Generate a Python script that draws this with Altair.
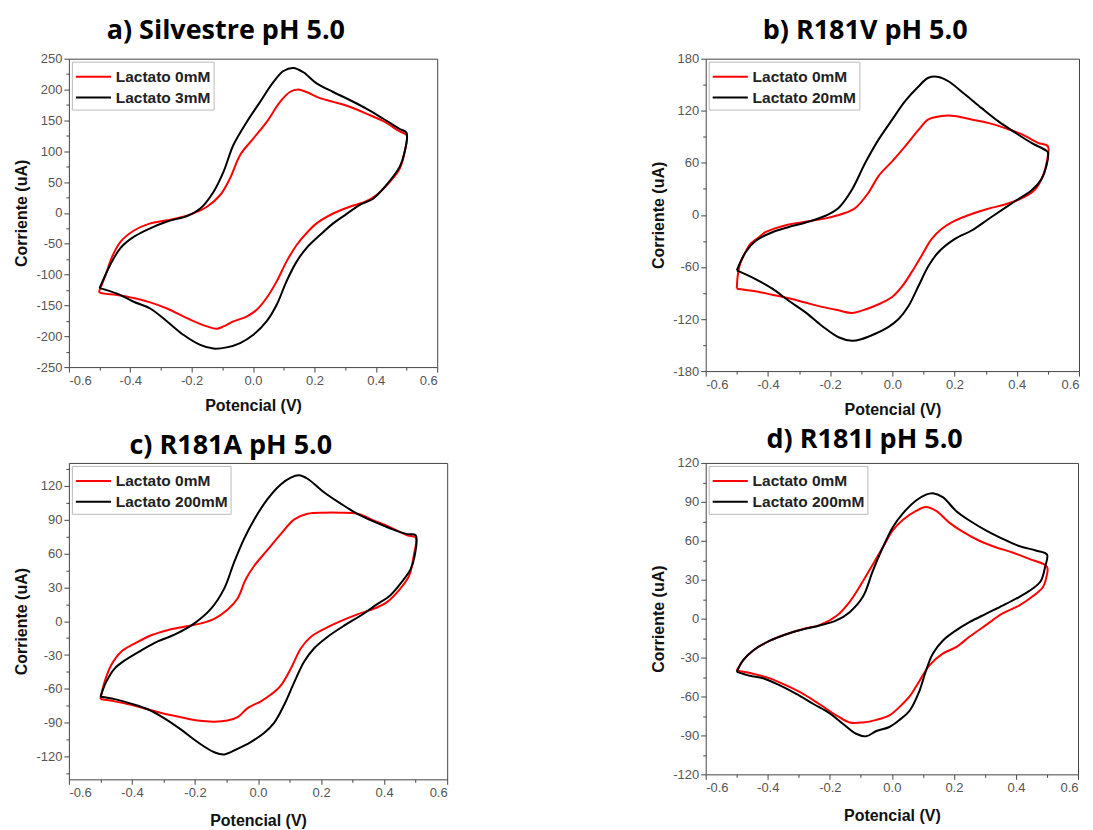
import altair as alt
import pandas as pd

# ---------------- data ----------------
# a) Silvestre pH 5.0
a_labels = ["Lactato 0mM", "Lactato 3mM"]
a_x0 = [-0.5, -0.48, -0.46, -0.432, -0.389, -0.335, -0.28, -0.2, -0.15, -0.107, -0.075, -0.042, 0.0, 0.044, 0.088, 0.12, 0.147, 0.174, 0.218, 0.261, 0.315, 0.369, 0.423, 0.478, 0.5,
        0.494, 0.478, 0.445, 0.402, 0.369, 0.315, 0.261, 0.207, 0.174, 0.142, 0.109, 0.077, 0.044, 0.012, -0.021, -0.064, -0.096, -0.118, -0.15, -0.205, -0.28, -0.335, -0.389, -0.443, -0.5, -0.5]
a_y0 = [-125, -100, -72, -47, -29, -17, -12, -2, 10, 29, 56, 94, 120, 147, 180, 196, 200, 196, 186, 180, 172, 161, 149, 132, 126,
        99, 72, 50, 29, 19, 10, -1, -17, -33, -52, -79, -111, -138, -157, -168, -176, -184, -188, -184, -173, -155, -145, -138, -133, -129, -125]
a_x1 = [-0.5, -0.465, -0.432, -0.389, -0.335, -0.28, -0.215, -0.172, -0.129, -0.096, -0.064, -0.021, 0.023, 0.066, 0.099, 0.131, 0.164, 0.207, 0.261, 0.315, 0.369, 0.423, 0.478, 0.5,
        0.494, 0.478, 0.434, 0.391, 0.348, 0.304, 0.261, 0.218, 0.174, 0.142, 0.109, 0.077, 0.044, 0.0, -0.042, -0.086, -0.129, -0.172, -0.226, -0.28, -0.335, -0.389, -0.443, -0.5]
a_y1 = [-122, -84, -57, -39, -25, -14, -5, 7, 34, 67, 110, 147, 180, 212, 230, 235, 228, 210, 196, 183, 169, 153, 136, 130,
        99, 75, 45, 23, 13, -2, -17, -36, -57, -79, -111, -149, -176, -198, -211, -218, -220, -214, -198, -176, -155, -144, -131, -122]

# b) R181V pH 5.0
b_labels = ["Lactato 0mM", "Lactato 20mM"]
b_x0 = [-0.5, -0.497, -0.49, -0.475, -0.455, -0.43, -0.408, -0.333, -0.28, -0.215, -0.162, -0.119, -0.076, -0.044, 0.0, 0.041, 0.084, 0.116, 0.159, 0.2, 0.255, 0.308, 0.362, 0.415, 0.468, 0.5,
        0.498, 0.484, 0.458, 0.415, 0.362, 0.308, 0.255, 0.2, 0.159, 0.126, 0.094, 0.062, 0.03, -0.002, -0.044, -0.087, -0.13, -0.173, -0.226, -0.28, -0.333, -0.386, -0.44, -0.5]
b_y0 = [-85, -70, -57, -45, -33, -26, -20, -11, -8, -4, 1, 8, 26, 45, 62, 79, 98, 110, 114, 114, 110, 106, 100, 93, 83, 79,
        64, 45, 29, 19, 12, 7, 1, -7, -16, -28, -47, -66, -83, -95, -103, -109, -113, -110, -106, -101, -96, -92, -88, -85]
b_x1 = [-0.5, -0.472, -0.44, -0.386, -0.333, -0.28, -0.215, -0.173, -0.13, -0.087, -0.044, 0.0, 0.041, 0.084, 0.116, 0.148, 0.18, 0.233, 0.287, 0.34, 0.394, 0.447, 0.495, 0.5,
        0.495, 0.479, 0.447, 0.404, 0.362, 0.308, 0.255, 0.2, 0.148, 0.116, 0.084, 0.052, 0.02, -0.012, -0.055, -0.098, -0.13, -0.173, -0.226, -0.28, -0.333, -0.386, -0.44, -0.5]
b_y1 = [-64, -43, -30, -20, -14, -9, -1, 8, 29, 60, 87, 110, 131, 148, 158, 159, 154, 139, 123, 108, 95, 83, 74, 72,
        56, 41, 28, 18, 8, -5, -18, -28, -43, -59, -82, -105, -120, -129, -137, -143, -145, -141, -128, -112, -99, -85, -74, -64]

# c) R181A pH 5.0
c_labels = ["Lactato 0mM", "Lactato 200mM"]
c_x0 = [-0.5, -0.487, -0.466, -0.434, -0.392, -0.339, -0.287, -0.234, -0.181, -0.139, -0.097, -0.065, -0.039, -0.012, 0.03, 0.072, 0.115, 0.157, 0.209, 0.262, 0.315, 0.368, 0.42, 0.473, 0.5,
        0.494, 0.479, 0.452, 0.41, 0.368, 0.315, 0.262, 0.209, 0.167, 0.136, 0.104, 0.072, 0.041, 0.009, -0.033, -0.065, -0.097, -0.139, -0.192, -0.244, -0.297, -0.35, -0.403, -0.455, -0.5]
c_y0 = [-69, -54, -39, -27, -20, -12.5, -8, -5, -2, 2, 10, 20, 37, 49, 63, 77, 90, 95, 96, 96, 95, 89, 83, 76, 74,
        58, 40, 29, 17, 11, 6, 0, -7, -14, -24, -42, -57, -65, -71, -77, -85, -88, -89, -88, -85, -82, -78, -74, -71, -69]
c_x1 = [-0.5, -0.482, -0.455, -0.424, -0.371, -0.318, -0.265, -0.202, -0.149, -0.107, -0.076, -0.044, -0.012, 0.03, 0.072, 0.104, 0.13, 0.157, 0.209, 0.262, 0.315, 0.368, 0.42, 0.473, 0.5,
        0.497, 0.484, 0.457, 0.42, 0.378, 0.326, 0.273, 0.22, 0.178, 0.146, 0.115, 0.083, 0.051, 0.019, -0.023, -0.065, -0.107, -0.139, -0.192, -0.244, -0.297, -0.35, -0.403, -0.455, -0.5]
c_y1 = [-67, -54, -42, -35, -26, -18, -12, -2, 11, 29, 52, 73, 90, 108, 121, 127, 129, 126, 114, 104, 95, 88, 82, 77, 76,
        58, 46, 35, 23, 15, 5, -4, -14, -24, -36, -54, -74, -90, -99, -107, -113, -118, -116, -107, -96, -86, -78, -73, -69, -67]

# d) R181I pH 5.0
d_labels = ["Lactato 0mM", "Lactato 200mM"]
d_x0 = [-0.5, -0.479, -0.447, -0.393, -0.34, -0.286, -0.233, -0.179, -0.136, -0.093, -0.061, -0.029, 0.003, 0.035, 0.078, 0.11, 0.143, 0.185, 0.228, 0.282, 0.335, 0.389, 0.443, 0.5,
        0.498, 0.486, 0.453, 0.41, 0.357, 0.303, 0.25, 0.207, 0.164, 0.121, 0.089, 0.057, 0.025, -0.008, -0.05, -0.093, -0.136, -0.179, -0.233, -0.286, -0.34, -0.393, -0.447, -0.5]
d_y0 = [-40, -32, -24.5, -17, -12, -8, -5, 2, 13, 29, 42, 55, 68, 76, 83, 86, 83, 74, 67, 60, 55, 51, 46, 40,
        32, 24, 17, 10, 4, -5, -14, -22, -27, -36, -48, -60, -68, -74.5, -78, -80, -80, -74.5, -66, -58, -51.5, -46, -42.5, -40]
d_x1 = [-0.5, -0.479, -0.447, -0.393, -0.34, -0.286, -0.233, -0.179, -0.136, -0.093, -0.061, -0.029, 0.003, 0.035, 0.078, 0.11, 0.132, 0.164, 0.207, 0.25, 0.303, 0.357, 0.41, 0.464, 0.5,
        0.494, 0.48, 0.453, 0.41, 0.357, 0.303, 0.25, 0.207, 0.164, 0.132, 0.11, 0.089, 0.057, 0.025, -0.008, -0.05, -0.083, -0.115, -0.158, -0.2, -0.254, -0.308, -0.361, -0.415, -0.458, -0.5]
d_y1 = [-41, -32, -24.5, -17, -12, -8.3, -5.3, -1.4, 5, 17, 37, 55, 70.5, 81, 91, 95.6, 96.7, 93.6, 83, 75.6, 68, 61.5, 56, 52.5, 49.4,
        40, 29, 23, 16.6, 10, 3.7, -2.7, -9, -17, -27, -40, -55.6, -71, -78, -83.5, -86.6, -90.7, -88.7, -81, -73, -65.6, -58, -51.5, -46, -44, -41]

titles = ["a) Silvestre pH 5.0", "b) R181V pH 5.0", "c) R181A pH 5.0", "d) R181I pH 5.0"]
x_major = [-0.6, -0.4, -0.2, 0.0, 0.2, 0.4, 0.6]
x_minor = [-0.5, -0.3, -0.1, 0.1, 0.3, 0.5]
colors = ["#ff0000", "#000000"]

AX = dict(grid=False, domain=False, tickColor="#444", tickSize=5, tickWidth=1,
          labelFont="Liberation Sans", labelFontSize=13, labelColor="#555", labelPadding=2,
          titleFont="Liberation Sans", titleFontSize=16, titleFontWeight="bold", titleColor="#111")


def panel(title, labels, xs0, ys0, xs1, ys1, ydom, ystep, w, h, toff, xtp):
    rows = []
    for lab, xs, ys in ((labels[0], xs0, ys0), (labels[1], xs1, ys1)):
        for i, (xv, yv) in enumerate(zip(xs, ys)):
            rows.append({"series": lab, "order": i, "x": xv, "y": yv})
    df = pd.DataFrame(rows)
    ymaj = [v for v in range(-10 * ystep, 10 * ystep + 1, ystep) if ydom[0] <= v <= ydom[1]]
    ymin = [v + ystep / 2 for v in ymaj if ydom[0] <= v + ystep / 2 <= ydom[1]]
    if ydom[0] <= ymaj[0] - ystep / 2:
        ymin = [ymaj[0] - ystep / 2] + ymin
    xs = alt.Scale(domain=[-0.6, 0.6], nice=False, zero=False)
    ys = alt.Scale(domain=ydom, nice=False, zero=False)
    base = alt.Chart(df)
    lines = base.mark_line(strokeWidth=2, interpolate="catmull-rom").encode(
        x=alt.X("x:Q", scale=xs, axis=alt.Axis(values=x_major, title="Potencial (V)", titlePadding=xtp,
                labelExpr="(datum.value < -0.001 ? '-' : '') + format(abs(datum.value), '.1f')", **AX)),
        y=alt.Y("y:Q", scale=ys, axis=alt.Axis(values=ymaj, title="Corriente (uA)", titlePadding=6,
                labelExpr="(datum.value < 0 ? '-' : '') + format(abs(datum.value), 'd')", **AX)),
        color=alt.Color("series:N", scale=alt.Scale(domain=labels, range=colors),
                        legend=alt.Legend(title=None, orient="top-left", offset=3,
                                          symbolType="M-1,0H2.2", symbolSize=484, symbolStrokeWidth=2,
                                          labelFont="Liberation Sans", labelFontSize=15.5, labelFontWeight="bold",
                                          labelColor="#222", labelOffset=17, labelLimit=300,
                                          strokeColor="#bbb", fillColor="white", padding=3, rowPadding=-2)),
        order="order:Q",
    )
    minor = base.mark_point(opacity=0).encode(
        x=alt.X("x:Q", scale=xs, axis=alt.Axis(values=x_minor, labels=False, title=None, orient="bottom",
                grid=False, domain=False, tickColor="#444", tickSize=3)),
        y=alt.Y("y:Q", scale=ys, axis=alt.Axis(values=ymin, labels=False, title=None, orient="left",
                grid=False, domain=False, tickColor="#444", tickSize=3)),
    )
    return alt.layer(lines, minor).resolve_axis(x="independent", y="independent").properties(
        width=w, height=h,
        title=alt.Title(title, font="Open Sans", fontSize=27, fontWeight="bold", color="#000",
                        anchor="middle", frame="bounds", offset=toff),
    )


pa = panel(titles[0], a_labels, a_x0, a_y0, a_x1, a_y1, [-250, 250], 50, 369, 309, 8, 10)
pb = panel(titles[1], b_labels, b_x0, b_y0, b_x1, b_y1, [-180, 180], 60, 374, 313, 8, 10)
pc = panel(titles[2], c_labels, c_x0, c_y0, c_x1, c_y1, [-140, 140], 30, 379, 317, 3, 13)
pd_ = panel(titles[3], d_labels, d_x0, d_y0, d_x1, d_y1, [-120, 120], 30, 373, 312, 3, 13)

row1 = alt.hconcat(pa, pb, spacing=212).resolve_scale(color="independent", x="independent", y="independent")
row2 = alt.hconcat(pc, pd_, spacing=202).resolve_scale(color="independent", x="independent", y="independent")
chart = alt.vconcat(row1, row2, spacing=7).resolve_scale(
    color="independent", x="independent", y="independent"
).properties(padding={"top": 7, "left": 5, "right": 5, "bottom": 5}).configure(
    background="white").configure_view(stroke="#444", strokeWidth=1)

chart.save("out.html", embed_options={"renderer": "svg", "actions": False})
